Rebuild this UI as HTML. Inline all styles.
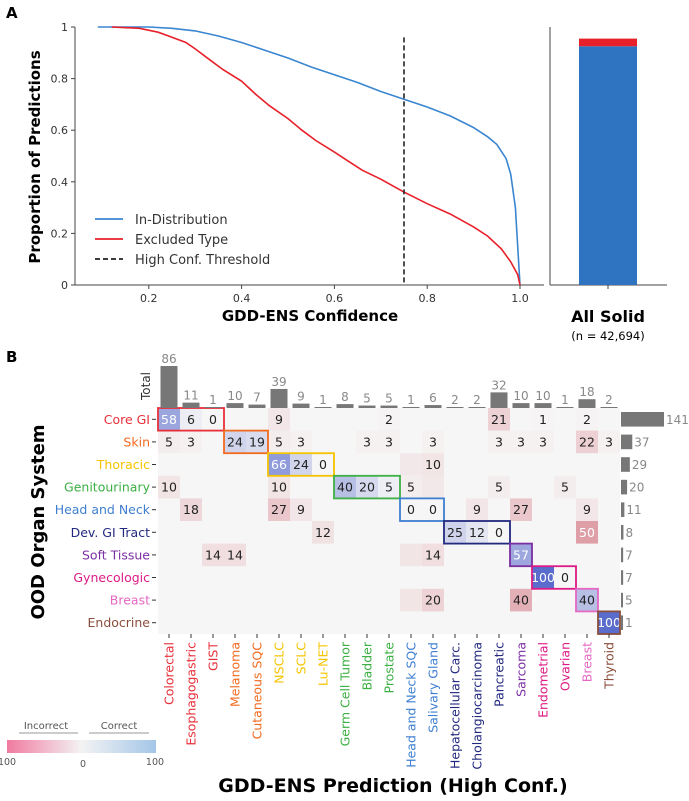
<!DOCTYPE html>
<html><head><meta charset="utf-8"><style>
body{margin:0;background:#fff;}
svg{display:block;font-family:"DejaVu Sans","Liberation Sans",sans-serif;}
</style></head><body>
<svg id="fig" width="689" height="801" viewBox="0 0 689 801" xmlns="http://www.w3.org/2000/svg"></svg>
<script>
// ---- Panel A data ----
const inDistX = [0.09,0.2,0.25,0.3,0.35,0.4,0.45,0.5,0.55,0.6,0.65,0.7,0.75,0.8,0.85,0.9,0.93,0.95,0.97,0.98,0.99,0.995,1.0];
const inDistY = [1,1,0.995,0.985,0.965,0.94,0.91,0.88,0.845,0.815,0.785,0.75,0.72,0.69,0.655,0.61,0.575,0.545,0.49,0.43,0.3,0.15,0.0];
const exclX = [0.12,0.18,0.22,0.25,0.28,0.3,0.33,0.36,0.4,0.43,0.46,0.5,0.53,0.56,0.6,0.63,0.66,0.7,0.75,0.8,0.85,0.9,0.93,0.96,0.98,0.995,1.0];
const exclY = [1,0.995,0.98,0.96,0.94,0.915,0.875,0.835,0.79,0.74,0.695,0.645,0.6,0.56,0.515,0.48,0.445,0.41,0.36,0.315,0.275,0.225,0.19,0.14,0.09,0.04,0];
const threshold = 0.75;
const xTicks = [0.2,0.4,0.6,0.8,1.0];
const xTickLabels = ["0.2","0.4","0.6","0.8","1.0"];
const yTicks = [0,0.2,0.4,0.6,0.8,1];
const yTickLabels = ["0","0.2","0.4","0.6","0.8","1"];
const barCorrect = 0.925;
const barExcluded = 0.955;
// ---- Panel B data ----
const colNames = ["Colorectal","Esophagogastric","GIST","Melanoma","Cutaneous SQC","NSCLC","SCLC","Lu-NET","Germ Cell Tumor","Bladder","Prostate","Head and Neck SQC","Salivary Gland","Hepatocellular Carc.","Cholangiocarcinoma","Pancreatic","Sarcoma","Endometrial","Ovarian","Breast","Thyroid"];
const colGroup = [0,0,0,1,1,2,2,2,3,3,3,4,4,5,5,5,6,7,7,8,9];
const colTotals = [86,11,1,10,7,39,9,1,8,5,5,1,6,2,2,32,10,10,1,18,2];
const rowNames = ["Core GI","Skin","Thoracic","Genitourinary","Head and Neck","Dev. GI Tract","Soft Tissue","Gynecologic","Breast","Endocrine"];
const rowTotals = [141,37,29,20,11,8,7,7,5,1];
const groupColors = ["#e8303a","#f26a1e","#f5c400","#3cb043","#3f7fd0","#23297f","#7b2fa3","#dd1a85","#e468c4","#8b4e3c"];
const boxStart = [0,3,5,8,11,13,16,17,19,20];
const boxEnd = [2,4,7,10,12,15,16,18,19,20];
const cellRows = [0,0,0,0,0,0,0,0, 1,1,1,1,1,1,1,1,1,1,1,1,1,1, 2,2,2,2,2, 3,3,3,3,3,3,3,3,3, 4,4,4,4,4,4,4,4, 5,5,5,5,5, 6,6,6,6,6, 7,7, 8,8,8,8, 9];
const cellCols = [0,1,2,5,10,15,17,19, 0,1,3,4,5,6,9,10,12,15,16,17,19,20, 5,6,7,11,12, 0,5,8,9,10,11,12,15,18, 1,5,6,11,12,14,16,19, 7,13,14,15,19, 2,3,11,12,16, 17,18, 11,12,16,19, 20];
const cellVals = [58,6,0,9,2,21,1,2, 5,3,24,19,5,3,3,3,3,3,3,3,22,3, 66,24,0,8,10, 10,10,40,20,5,5,8,5,5, 18,27,9,0,0,9,27,9, 12,25,12,0,50, 14,14,10,14,57, 100,0, 10,20,40,40, 100];
const cellShown = [1,1,1,1,1,1,1,1, 1,1,1,1,1,1,1,1,1,1,1,1,1,1, 1,1,1,0,1, 1,1,1,1,1,1,0,1,1, 1,1,1,1,1,1,1,1, 1,1,1,1,1, 1,1,0,1,1, 1,1, 0,1,1,1, 1];

const NS="http://www.w3.org/2000/svg";
const svg=document.getElementById('fig');
function mk(tag,attrs,parent,text){const e=document.createElementNS(NS,tag);for(const k in attrs)e.setAttribute(k,attrs[k]);if(text!==undefined)e.textContent=text;(parent||svg).appendChild(e);return e;}

// ---------- Panel A ----------
const ax=v=>56+(v)*(520-56)/1.0*1; // 0->56, 1->520
const ay=v=>285-v*258;
let t=mk('text',{x:6,y:18,'font-size':15,'font-weight':'bold'},svg,'A');

let g=mk('g',{});
mk('line',{x1:75,y1:285,x2:544,y2:285,stroke:'#444','stroke-width':1},g);
mk('line',{x1:75,y1:27,x2:75,y2:285,stroke:'#444','stroke-width':1},g);
xTicks.forEach((v,i)=>{mk('line',{x1:ax(v),x2:ax(v),y1:285,y2:289,stroke:'#444'},g);
 const e=mk('text',{x:ax(v),y:302,'font-size':11,'text-anchor':'middle',fill:'#333'},g,xTickLabels[i]);
 });
yTicks.forEach((v,i)=>{mk('line',{x1:71,x2:75,y1:ay(v),y2:ay(v),stroke:'#444'},g);
 const e=mk('text',{x:68,y:ay(v)+4,'font-size':11,'text-anchor':'end',fill:'#333'},g,yTickLabels[i]);
 });
function path(xs,ys){return xs.map((x,i)=>(i?'L':'M')+ax(x).toFixed(1)+','+ay(ys[i]).toFixed(1)).join('');}
let p=mk('path',{d:path(inDistX,inDistY),fill:'none',stroke:'#3a86d0','stroke-width':1.6},g);

p=mk('path',{d:path(exclX,exclY),fill:'none',stroke:'#e8202a','stroke-width':1.6},g);

p=mk('line',{x1:ax(threshold),x2:ax(threshold),y1:ay(0.96),y2:ay(0),stroke:'#222','stroke-width':1.6,'stroke-dasharray':'5,3'},g);

// legend
const leg=[["In-Distribution","#3a86d0",''],["Excluded Type","#e8202a",''],["High Conf. Threshold","#222",'5,3']];
leg.forEach((l,i)=>{const y=219+i*20;const lg=mk('g',{},g);
 mk('line',{x1:95,x2:123,y1:y,y2:y,stroke:l[1],'stroke-width':1.8,'stroke-dasharray':l[2]||'none'},lg);
 mk('text',{x:135,y:y+5,'font-size':13,fill:'#333'},lg,l[0]);});
t=mk('text',{x:310,y:321,'font-size':15,'font-weight':'bold','text-anchor':'middle'},svg,'GDD-ENS Confidence');

t=mk('text',{x:0,y:0,'font-size':15,'font-weight':'bold','text-anchor':'middle',transform:'translate(40,157) rotate(-90)'},svg,'Proportion of Predictions');

// bar panel
let bg=mk('g',{});
mk('line',{x1:550,y1:27,x2:550,y2:285,stroke:'#444'},bg);
mk('line',{x1:550,y1:285,x2:667,y2:285,stroke:'#444'},bg);
mk('line',{x1:608,y1:285,x2:608,y2:289,stroke:'#444'},bg);
let r=mk('rect',{x:579,y:ay(barExcluded),width:58,height:ay(barCorrect)-ay(barExcluded),fill:'#e8202a'},bg);

r=mk('rect',{x:579,y:ay(barCorrect),width:58,height:285-ay(barCorrect),fill:'#2e74c0'},bg);

t=mk('text',{x:608,y:322,'font-size':16,'font-weight':'bold','text-anchor':'middle'},svg,'All Solid');

t=mk('text',{x:608,y:340,'font-size':11.5,'text-anchor':'middle'},svg,'(n = 42,694)');


// ---------- Panel B ----------
const CW=22, RH=22.6, GX=158, GY=408;
const cx=c=>GX+c*CW, ry=rw=>GY+rw*RH;
t=mk('text',{x:6,y:362,'font-size':15,'font-weight':'bold'},svg,'B');

let hg=mk('g',{});
mk('rect',{x:GX,y:GY,width:CW*colNames.length,height:RH*rowNames.length,fill:'#f6f6f6'},hg);
function mix(a,b,f){return 'rgb('+a.map((v,i)=>Math.round(v+(b[i]-v)*f)).join(',')+')';}
const base=[246,246,246], blue=[90,108,204], pink=[200,72,88];
cellVals.forEach((v,i)=>{const rw=cellRows[i],c=cellCols[i];
 const correct=c>=boxStart[rw]&&c<=boxEnd[rw];
 const col=mix(base,correct?blue:pink,v/100);
 const cell=mk('rect',{x:cx(c),y:ry(rw),width:CW,height:RH,fill:col},hg);
 
 if(cellShown[i]){const tx=mk('text',{x:cx(c)+CW/2,y:ry(rw)+RH/2+4.5,'font-size':12.5,'text-anchor':'middle',fill:v>=50?'#fff':'#222'},hg,String(v));
  }
});
// group boxes
boxStart.forEach((s,i)=>{const b=mk('rect',{x:cx(s),y:ry(i),width:(boxEnd[i]-s+1)*CW,height:RH,fill:'none',stroke:groupColors[i],'stroke-width':1.8},hg);
 });
// row labels
rowNames.forEach((n,i)=>{const y=ry(i)+RH/2;mk('line',{x1:152,x2:156,y1:y,y2:y,stroke:'#333'},hg);
 const e=mk('text',{x:150,y:y+4.5,'font-size':12.5,'text-anchor':'end',fill:groupColors[i]},hg,n);
 });
// col labels
colNames.forEach((n,c)=>{const x=cx(c)+CW/2;mk('line',{x1:x,x2:x,y1:GY+RH*10,y2:GY+RH*10+4,stroke:'#333'},hg);
 const e=mk('text',{x:0,y:0,'font-size':12.5,'text-anchor':'end',fill:groupColors[colGroup[c]],transform:`translate(${x+4.5},${GY+RH*10+8}) rotate(-90)`},hg,n);
 });
// top totals
const tScale=42/86;
colTotals.forEach((v,c)=>{const h=Math.max(v*tScale,1);const b=mk('rect',{x:cx(c)+2.5,y:GY-h,width:CW-5,height:h,fill:'#777'},hg);
 
 const e=mk('text',{x:cx(c)+CW/2,y:GY-h-3,'font-size':12,'text-anchor':'middle',fill:'#888'},hg,String(v));
 });
t=mk('text',{x:0,y:0,'font-size':12,'text-anchor':'middle',fill:'#333',transform:'translate(150,386) rotate(-90)'},hg,'Total');

// right totals
const rScale=43/141, RX=GX+CW*21+1;
rowTotals.forEach((v,i)=>{const w=Math.max(v*rScale,2);const b=mk('rect',{x:RX,y:ry(i)+4,width:w,height:RH-8,fill:'#777'},hg);
 
 const e=mk('text',{x:RX+w+2,y:ry(i)+RH/2+4.5,'font-size':12,fill:'#888'},hg,String(v));
 });
t=mk('text',{x:0,y:0,'font-size':18,'font-weight':'bold','text-anchor':'middle',transform:'translate(44,522) rotate(-90)'},svg,'OOD Organ System');

t=mk('text',{x:393,y:792,'font-size':19,'font-weight':'bold','text-anchor':'middle'},svg,'GDD-ENS Prediction (High Conf.)');

// colorbar legend
let cg=mk('g',{});
const defs=mk('defs',{});const lgd=mk('linearGradient',{id:'cb',x1:0,x2:1,y1:0,y2:0},defs);
mk('stop',{offset:'0',  'stop-color':'#f07aa0'},lgd);mk('stop',{offset:'0.5','stop-color':'#f3f3f3'},lgd);mk('stop',{offset:'1','stop-color':'#a4c6e8'},lgd);
mk('rect',{x:7,y:740,width:149,height:13,fill:'url(#cb)'},cg);
mk('text',{x:46,y:729,'font-size':10,'text-anchor':'middle',fill:'#555'},cg,'Incorrect');
mk('text',{x:119,y:729,'font-size':10,'text-anchor':'middle',fill:'#555'},cg,'Correct');
mk('line',{x1:19,x2:78,y1:733,y2:733,stroke:'#999'},cg);
mk('line',{x1:89,x2:149,y1:733,y2:733,stroke:'#999'},cg);
mk('text',{x:7,y:765,'font-size':9.5,'text-anchor':'middle',fill:'#555'},cg,'100');
mk('text',{x:83,y:767,'font-size':9.5,'text-anchor':'middle',fill:'#555'},cg,'0');
mk('text',{x:155,y:765,'font-size':9.5,'text-anchor':'middle',fill:'#555'},cg,'100');
</script>
</body></html>
